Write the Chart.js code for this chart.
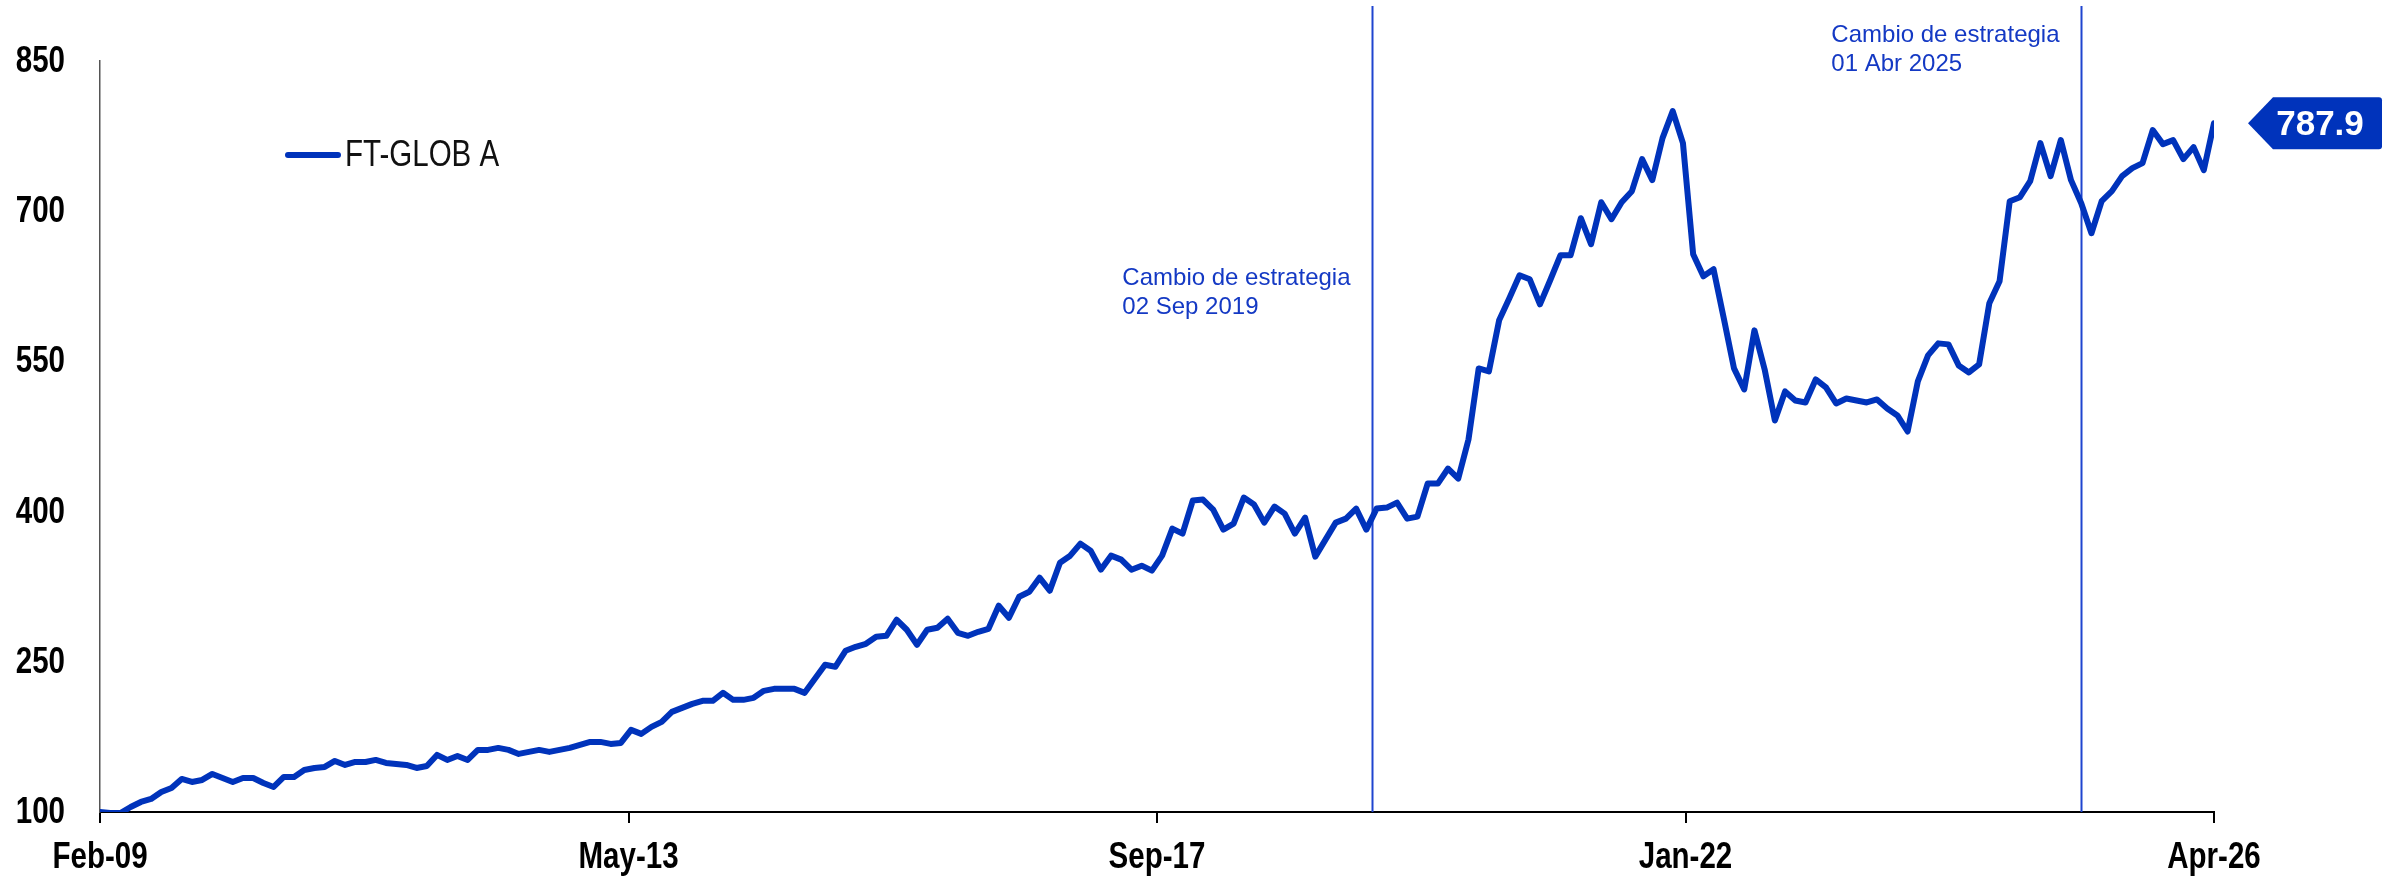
<!DOCTYPE html>
<html lang="es">
<head>
<meta charset="UTF-8">
<title>FT-GLOB A</title>
<script src="https://cdn.jsdelivr.net/npm/chart.js@4.4.1/dist/chart.umd.min.js"></script>
<style>
*{margin:0;padding:0}
body{background:#fff;width:2396px;height:880px;overflow:hidden}
canvas{display:block}
</style>
</head>
<body>
<canvas id="chart" width="2396" height="880"></canvas>
<script>
// monthly values, Feb-09 .. Apr-26 (base 100)
const seriesName = 'FT-GLOB A';
const values = [
  100, 99, 99, 105, 110, 113, 120, 124, 133, 130, 132, 138, 134, 130, 134, 134, 129, 125, 135, 135,
  142, 144, 145, 151, 147, 150, 150, 152, 149, 148, 147, 144, 146, 157, 152, 156, 152, 162, 162, 164,
  162, 158, 160, 162, 160, 162, 164, 167, 170, 170, 168, 169, 182, 178, 185, 190, 200, 204, 208, 211,
  211, 219, 212, 212, 214, 221, 223, 223, 223, 219, 233, 247, 245, 261, 265, 268, 275, 276, 292, 282,
  267, 282, 284, 293, 279, 276, 280, 283, 306, 294, 315, 320, 334, 321, 349, 356, 368, 361, 342, 356,
  352, 342, 346, 341, 356, 383, 378, 411, 412, 402, 382, 388, 414, 407, 389, 405, 398, 378, 394, 355,
  372, 389, 393, 403, 382, 403, 404, 409, 393, 395, 428, 428, 443, 433, 472, 543, 540, 591, 613, 636,
  632, 607, 631, 656, 656, 693, 667, 709, 692, 709, 720, 752, 731, 773, 800, 768, 657, 635, 642, 593,
  543, 522, 581, 542, 491, 520, 511, 509, 532, 524, 508, 513, 511, 509, 512, 503, 496, 480, 530, 556,
  568, 567, 546, 539, 547, 608, 630, 710, 714, 730, 768, 735, 771, 731, 708, 678, 710, 720, 735, 743,
  748, 781, 767, 771, 752, 764, 741, 787.9
];
const xTickLabels = ['Feb-09', 'May-13', 'Sep-17', 'Jan-22', 'Apr-26'];
const yTicks = [100, 250, 400, 550, 700, 850];
// strategy changes, on the month index of the series
const eventAt = [124.6, 194.0];
const eventText = [['Cambio de estrategia', '02 Sep 2019'], ['Cambio de estrategia', '01 Abr 2025']];

const blue = '#0033bb';
const noteBlue = '#1439c4';
const sans = "'Liberation Sans',Arial,sans-serif";
const squeeze = 0.82; // no narrow face installed, so condense the regular one

function narrowText(ctx, text, x, y, align, font) {
  ctx.save();
  ctx.font = font;
  ctx.textAlign = align;
  ctx.textBaseline = 'middle';
  ctx.translate(x, y);
  ctx.scale(squeeze, 1);
  ctx.fillText(text, 0, 0);
  ctx.restore();
}

const extras = {
  id: 'extras',
  beforeDatasetsDraw(chart) {
    const { ctx, chartArea, scales: { x } } = chart;
    const textY = [285, 42];
    ctx.save();
    eventAt.forEach((v, k) => {
      const px = Math.round(x.getPixelForValue(v)) + 0.5;
      ctx.strokeStyle = '#1f45cf';
      ctx.lineWidth = 2;
      ctx.beginPath();
      ctx.moveTo(px, 6);
      ctx.lineTo(px, chartArea.bottom);
      ctx.stroke();
      ctx.font = '24px ' + sans;
      ctx.fillStyle = noteBlue;
      ctx.textAlign = 'left';
      ctx.textBaseline = 'alphabetic';
      const w = Math.max(...eventText[k].map(t => ctx.measureText(t).width));
      eventText[k].forEach((t, j) => ctx.fillText(t, px - 22 - w, textY[k] + j * 28.5));
    });
    ctx.restore();
  },
  afterDraw(chart) {
    const { ctx, chartArea, scales: { x, y } } = chart;
    ctx.save();
    // axis labels at the library's own tick positions
    ctx.fillStyle = '#000';
    x.ticks.forEach((t, i) => narrowText(ctx, xTickLabels[i], x.getPixelForTick(i), 858, 'center', 'bold 36px ' + sans));
    y.ticks.forEach((t, i) => narrowText(ctx, String(t.value), 65, y.getPixelForTick(i) + 1, 'right', 'bold 36px ' + sans));
    // legend
    ctx.strokeStyle = blue;
    ctx.lineWidth = 6;
    ctx.lineCap = 'round';
    ctx.beginPath();
    ctx.moveTo(288, 155);
    ctx.lineTo(338, 155);
    ctx.stroke();
    ctx.fillStyle = '#111';
    narrowText(ctx, seriesName, 345, 156, 'left', '36px ' + sans);
    // last value tag
    const last = values[values.length - 1];
    const py = y.getPixelForValue(last);
    const tip = chartArea.right + 34, body = tip + 25, right = 2382, h = 26, r = 3;
    ctx.fillStyle = blue;
    ctx.beginPath();
    ctx.moveTo(tip, py);
    ctx.lineTo(body, py - h);
    ctx.lineTo(right - r, py - h);
    ctx.quadraticCurveTo(right, py - h, right, py - h + r);
    ctx.lineTo(right, py + h - r);
    ctx.quadraticCurveTo(right, py + h, right - r, py + h);
    ctx.lineTo(body, py + h);
    ctx.closePath();
    ctx.fill();
    ctx.fillStyle = '#fff';
    ctx.font = 'bold 35px ' + sans;
    ctx.textAlign = 'center';
    ctx.textBaseline = 'middle';
    ctx.fillText(last.toFixed(1), body + 47, py + 2);
    ctx.restore();
  }
};

new Chart(document.getElementById('chart'), {
  type: 'line',
  data: {
    datasets: [{
      label: seriesName,
      data: values.map((v, i) => ({ x: i, y: v })),
      borderColor: blue,
      borderWidth: 6,
      borderJoinStyle: 'round',
      borderCapStyle: 'round',
      pointRadius: 0,
      tension: 0,
    }]
  },
  options: {
    responsive: false,
    animation: false,
    devicePixelRatio: 1,
    layout: { padding: { top: 61, right: 182, left: 0, bottom: 0 } },
    plugins: { legend: { display: false }, tooltip: { enabled: false } },
    scales: {
      x: {
        type: 'linear',
        min: 0,
        max: values.length - 1,
        afterBuildTicks: s => { s.ticks = xTickLabels.map((l, i) => ({ value: i * (values.length - 1) / (xTickLabels.length - 1) })); },
        afterFit: s => { s.height = 68; },
        ticks: { display: false, autoSkip: false, maxRotation: 0 },
        grid: { drawOnChartArea: false, drawTicks: true, tickLength: 11, color: '#000', lineWidth: 2 },
        border: { display: true, color: '#000', width: 2 },
      },
      y: {
        min: 100,
        max: 850,
        afterBuildTicks: s => { s.ticks = yTicks.map(v => ({ value: v })); },
        afterFit: s => { s.width = 100; },
        ticks: { display: false },
        grid: { drawOnChartArea: false, drawTicks: false },
        border: { display: true, color: '#555', width: 1.5 },
      }
    }
  },
  plugins: [extras]
});
</script>
</body>
</html>
